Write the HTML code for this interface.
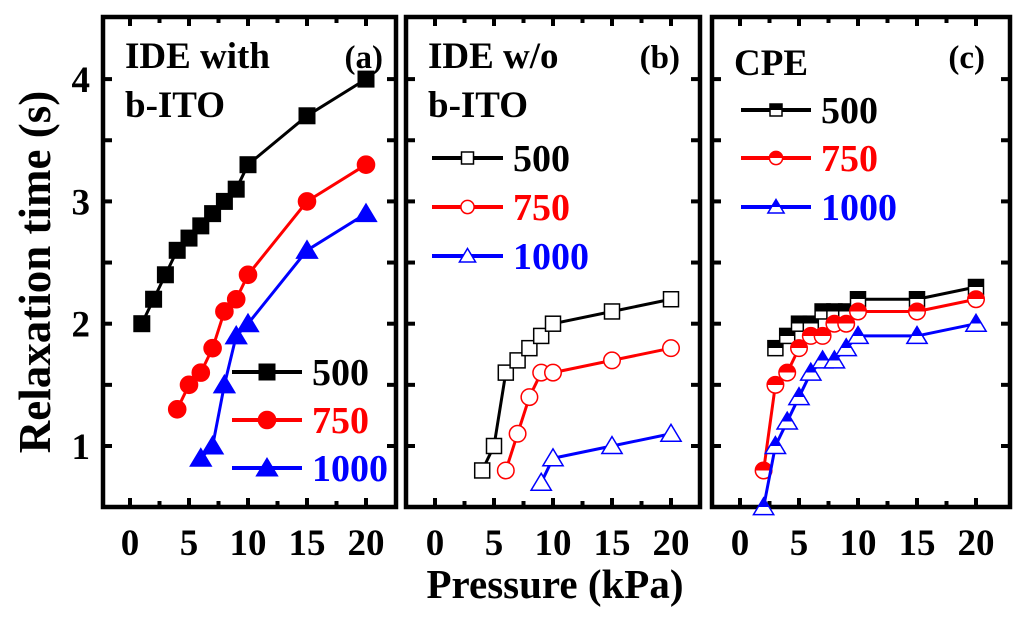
<!DOCTYPE html>
<html><head><meta charset="utf-8"><style>
body{margin:0;background:#fff}
svg{display:block}
svg text{font-family:"Liberation Serif","Times New Roman",serif;font-weight:bold}
</style></head><body>
<svg id="chart" width="1024" height="623" viewBox="0 0 1024 623" xmlns="http://www.w3.org/2000/svg">
<defs>
<linearGradient id="hk" x1="0" y1="0" x2="0" y2="1"><stop offset="0.5" stop-color="#000"/><stop offset="0.5" stop-color="#fff"/></linearGradient>
<linearGradient id="hr" x1="0" y1="0" x2="0" y2="1"><stop offset="0.5" stop-color="#f00"/><stop offset="0.5" stop-color="#fff"/></linearGradient>
<linearGradient id="hb" x1="0" y1="0" x2="0" y2="1"><stop offset="0.55" stop-color="#00f"/><stop offset="0.55" stop-color="#fff"/></linearGradient>
</defs>
<g id="plot"></g>
<text transform="translate(50,272) rotate(-90)" text-anchor="middle" font-size="45" font-family="Liberation Serif, serif">Relaxation time (s)</text>
<text x="555" y="598" text-anchor="middle" font-size="41" font-family="Liberation Serif, serif">Pressure (kPa)</text>
</svg>
<script>
const pressureA500=[1,2,3,4,5,6,7,8,9,10,15,20];
const timeA500=[2.0,2.2,2.4,2.6,2.7,2.8,2.9,3.0,3.1,3.3,3.7,4.0];
const pressureA750=[4,5,6,7,8,9,10,15,20];
const timeA750=[1.3,1.5,1.6,1.8,2.1,2.2,2.4,3.0,3.3];
const pressureA1000=[6,7,8,9,10,15,20];
const timeA1000=[0.9,1.0,1.5,1.9,2.0,2.6,2.9];
const pressureB500=[4,5,6,7,8,9,10,15,20];
const timeB500=[0.8,1.0,1.6,1.7,1.8,1.9,2.0,2.1,2.2];
const pressureB750=[6,7,8,9,10,15,20];
const timeB750=[0.8,1.1,1.4,1.6,1.6,1.7,1.8];
const pressureB1000=[9,10,15,20];
const timeB1000=[0.7,0.9,1.0,1.1];
const pressureC500=[3,4,5,6,7,8,9,10,15,20];
const timeC500=[1.8,1.9,2.0,2.0,2.1,2.1,2.1,2.2,2.2,2.3];
const pressureC750=[2,3,4,5,6,7,8,9,10,15,20];
const timeC750=[0.8,1.5,1.6,1.8,1.9,1.9,2.0,2.0,2.1,2.1,2.2];
const pressureC1000=[2,3,4,5,6,7,8,9,10,15,20];
const timeC1000=[0.5,1.0,1.2,1.4,1.6,1.7,1.7,1.8,1.9,1.9,2.0];
const xTicks=[0,5,10,15,20];
const yTicks=[1,2,3,4];
const seriesNames=["500","750","1000"];

const NS="http://www.w3.org/2000/svg";
const plot=document.getElementById('plot');
function el(tag,attrs,parent){const e=document.createElementNS(NS,tag);for(const k in attrs)e.setAttribute(k,attrs[k]);if(tag==='text')e.setAttribute('font-family','Liberation Serif, serif');(parent||plot).appendChild(e);return e;}
function yScale(v){return 446-(v-1)*122.3;}
const colors=["#000","#f00","#00f"];
const panels=[
 {id:'a',left:103,right:396,x0:130,title:["IDE with","b-ITO"],tag:"(a)",tagX:383,style:'filled',
  data:[[pressureA500,timeA500],[pressureA750,timeA750],[pressureA1000,timeA1000]],
  leg:{x1:232,x2:302,tx:312,ys:[372,420,468]}},
 {id:'b',left:406,right:700,x0:435,title:["IDE w/o","b-ITO"],tag:"(b)",tagX:680,style:'open',
  data:[[pressureB500,timeB500],[pressureB750,timeB750],[pressureB1000,timeB1000]],
  leg:{x1:432,x2:503,tx:513,ys:[158,207,256]}},
 {id:'c',left:712,right:1010,x0:740,title:["CPE"],tag:"(c)",tagX:985,style:'half',
  data:[[pressureC500,timeC500],[pressureC750,timeC750],[pressureC1000,timeC1000]],
  leg:{x1:741,x2:811,tx:821,ys:[110,158,207]}}
];
const frameTop=17,frameBottom=507;
function marker(g,i,cx,cy,s,style){
  const c=colors[i];
  let fill=style==='filled'?c:(style==='open'?'#fff':['url(#hk)','url(#hr)','url(#hb)'][i]);
  const sw=style==='filled'?1:1.5;
  let m;
  if(i===0) m=el('rect',{x:cx-s,y:cy-s,width:2*s,height:2*s,fill:fill,stroke:c,'stroke-width':sw},g);
  else if(i===1) m=el('circle',{cx:cx,cy:cy,r:s*1.1,fill:fill,stroke:c,'stroke-width':sw},g);
  else m=el('polygon',{points:`${cx},${cy-s*1.25} ${cx+s*1.35},${cy+s} ${cx-s*1.35},${cy+s}`,fill:fill,stroke:c,'stroke-width':sw},g);
  
  
}
panels.forEach(p=>{
  const xs=v=>p.x0+v*11.8;
  const g=el('g',{});
  
  
  const fr=el('rect',{x:p.left,y:frameTop,width:p.right-p.left,height:frameBottom-frameTop,fill:'none',stroke:'#000','stroke-width':4.5},g);
  
  
  for(let v=0;v<=20;v+=2.5){
    const x=xs(v),L=(v%5===0)?9:6;
    el('line',{x1:x,x2:x,y1:frameBottom,y2:frameBottom-L,stroke:'#000','stroke-width':4},g);
    el('line',{x1:x,x2:x,y1:frameTop,y2:frameTop+L,stroke:'#000','stroke-width':4},g);
  }
  for(let v=0.5;v<=4.5;v+=0.5){
    const y=yScale(v); if(y<frameTop+3||y>frameBottom-3) continue;
    el('line',{x1:p.left,x2:p.left+9,y1:y,y2:y,stroke:'#000','stroke-width':4},g);
    el('line',{x1:p.right,x2:p.right-9,y1:y,y2:y,stroke:'#000','stroke-width':4},g);
  }
  xTicks.forEach(v=>{
    const t=el('text',{x:xs(v),y:555,'text-anchor':'middle','font-size':37},g);
    t.textContent=v;
    
    
  });
  p.title.forEach((s,k)=>{
    const t=el('text',{x:p.left+22,y:[68,117][k]+(p.id==='c'?7:0),'font-size':37},g);
    t.textContent=s;
    
    
  });
  const tg=el('text',{x:p.tagX,y:68,'text-anchor':'end','font-size':33},g);
  tg.textContent=p.tag;
  
  
  const s=p.style==='filled'?8:7.5;
  p.data.forEach((d,i)=>{
    const pts=d[0].map((x,k)=>xs(x)+','+yScale(d[1][k])).join(' ');
    const ln=el('polyline',{points:pts,fill:'none',stroke:colors[i],'stroke-width':3,'stroke-linejoin':'round'},g);
    
    
    d[0].forEach((x,k)=>marker(g,i,xs(x),yScale(d[1][k]),s,p.style));
    const ly=p.leg.ys[i];
    const lg=el('g',{},g);
    
    
    el('line',{x1:p.leg.x1,x2:p.leg.x2,y1:ly,y2:ly,stroke:colors[i],'stroke-width':4},lg);
    marker(lg,i,(p.leg.x1+p.leg.x2)/2,ly,p.style==='filled'?8:6,p.style);
    const lt=el('text',{x:p.leg.tx,y:ly+13,'font-size':38,fill:colors[i]},lg);
    lt.textContent=seriesNames[i];
  });
});
yTicks.forEach(v=>{
  const t=el('text',{x:90,y:yScale(v)+13,'text-anchor':'end','font-size':37});
  t.textContent=v;
  
  
});
</script>
</body></html>
